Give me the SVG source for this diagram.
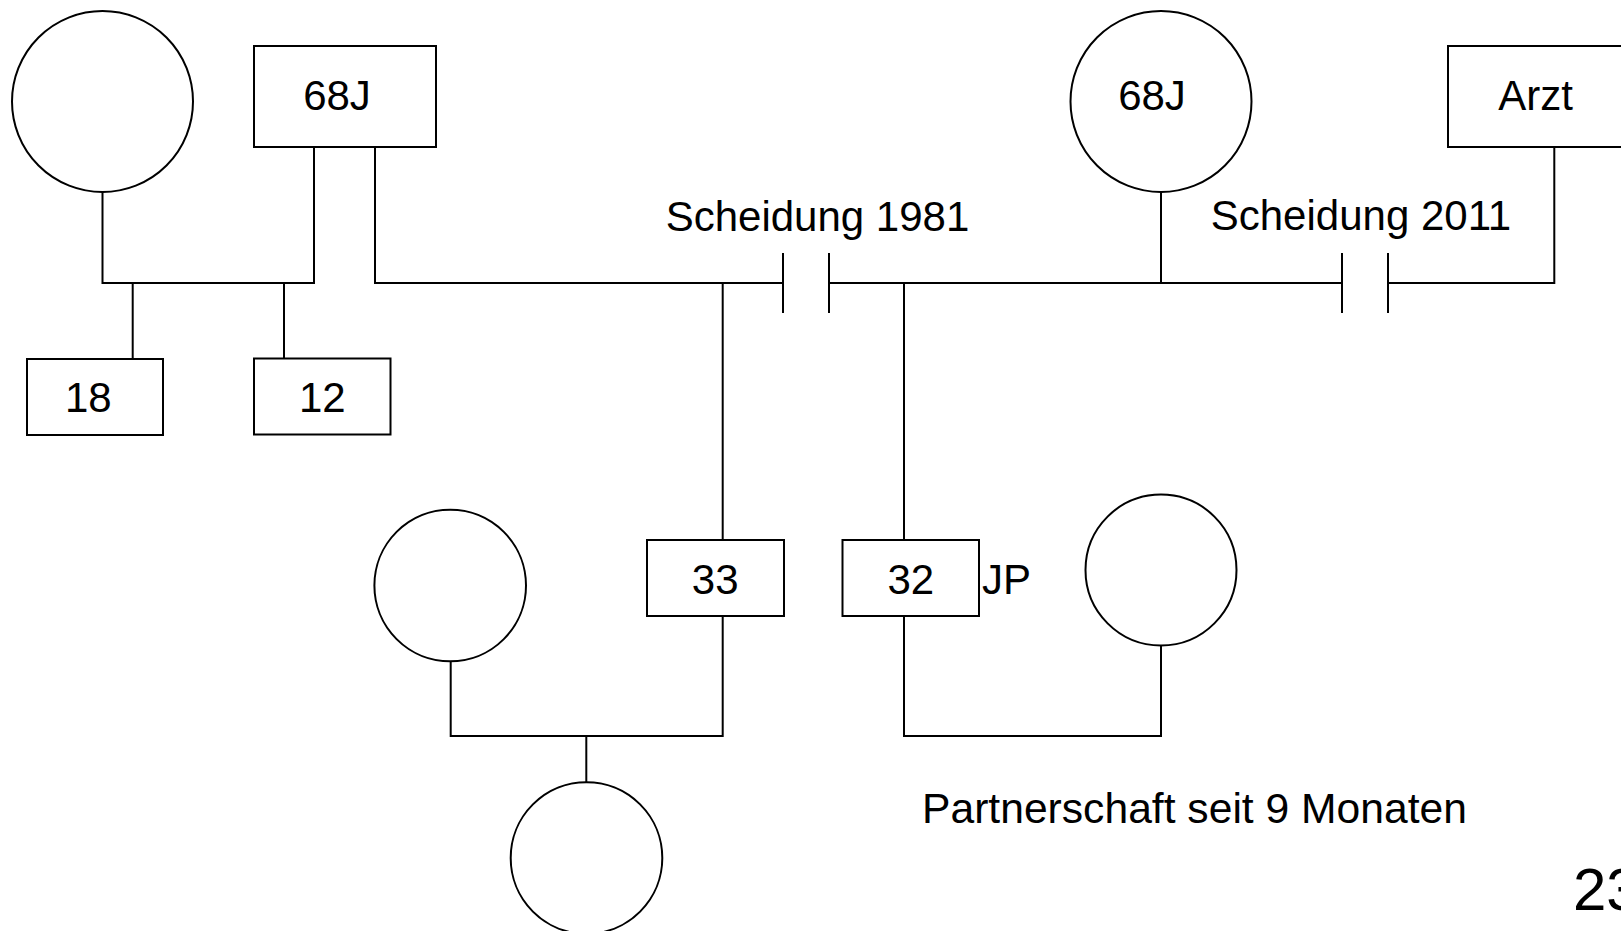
<svg xmlns="http://www.w3.org/2000/svg" width="1621" height="931" viewBox="0 0 1621 931">
<style>
.n{fill:#fff;stroke:#000;stroke-width:2}
.c{fill:none;stroke:#000;stroke-width:2}
.t{font-family:"Liberation Sans",Arial,sans-serif;font-size:42px;fill:#000}
.m{text-anchor:middle}
</style>
<rect width="1621" height="931" fill="#fff"/>
<g id="connectors">
<polyline class="c" points="102.5,192 102.5,283 314,283 314,147"/>
<line class="c" x1="132.7" y1="283" x2="132.7" y2="359"/>
<line class="c" x1="284" y1="283" x2="284" y2="358"/>
<polyline class="c" points="375,147 375,283 783,283"/>
<line class="c" x1="783" y1="253" x2="783" y2="313"/>
<line class="c" x1="829" y1="253" x2="829" y2="313"/>
<line class="c" x1="829" y1="283" x2="1342" y2="283"/>
<line class="c" x1="1342" y1="253" x2="1342" y2="313"/>
<line class="c" x1="1388" y1="253" x2="1388" y2="313"/>
<polyline class="c" points="1388,283 1554.3,283 1554.3,147"/>
<line class="c" x1="1161" y1="192" x2="1161" y2="283"/>
<line class="c" x1="722.7" y1="283" x2="722.7" y2="540"/>
<line class="c" x1="904" y1="283" x2="904" y2="540"/>
<polyline class="c" points="450.7,661 450.7,736 722.7,736 722.7,616"/>
<line class="c" x1="586.3" y1="736" x2="586.3" y2="782"/>
<polyline class="c" points="904,616 904,736 1161,736 1161,646"/>
</g>
<g id="n-f-top-left"><circle class="n" cx="102.5" cy="101.5" r="90.5"/></g>
<g id="n-m-68"><rect class="n" x="254" y="46" width="182" height="101"/><text class="t m" x="337" y="110">68J</text></g>
<g id="n-f-68"><circle class="n" cx="1161" cy="101.5" r="90.5"/><text class="t m" x="1152" y="110">68J</text></g>
<g id="n-arzt"><rect class="n" x="1448" y="46" width="182" height="101"/><text class="t m" x="1535.5" y="110">Arzt</text></g>
<g id="n-18"><rect class="n" x="27" y="359" width="136" height="76"/><text class="t m" x="88.3" y="411.5">18</text></g>
<g id="n-12"><rect class="n" x="254" y="358.5" width="136.5" height="76"/><text class="t m" x="322.3" y="411.5">12</text></g>
<g id="n-f-mid-left"><circle class="n" cx="450.2" cy="585.5" r="75.8"/></g>
<g id="n-33"><rect class="n" x="647" y="540" width="137" height="76"/><text class="t m" x="715.2" y="593.5">33</text></g>
<g id="n-32"><rect class="n" x="842.5" y="540" width="136.5" height="76"/><text class="t m" x="910.8" y="593.5">32</text><text class="t" x="982" y="593.5">JP</text></g>
<g id="n-f-partner"><circle class="n" cx="1161" cy="570" r="75.5"/></g>
<g id="n-f-child"><circle class="n" cx="586.5" cy="858" r="75.8"/></g>
<g id="labels">
<text class="t m" x="817.5" y="231">Scheidung 1981</text>
<text class="t m" x="1361" y="230">Scheidung 2011</text>
<text class="t" x="922" y="823" textLength="545" lengthAdjust="spacingAndGlyphs">Partnerschaft seit 9 Monaten</text>
<text class="t" x="1573" y="910" style="font-size:60px">23</text>
</g>
</svg>
